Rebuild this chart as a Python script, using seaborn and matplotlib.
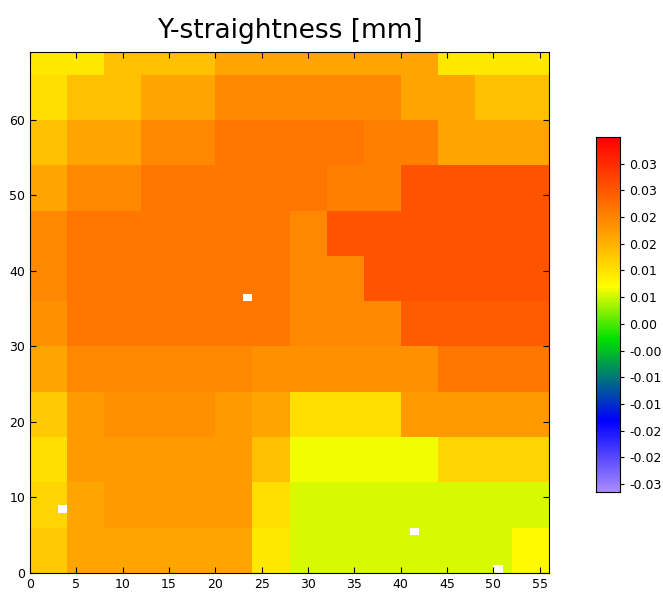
import numpy as np
import matplotlib
matplotlib.use("Agg")
import matplotlib.pyplot as plt
import seaborn as sns
from matplotlib.colors import LinearSegmentedColormap

# coarse blocks, rows from y=0 upward, 14 columns of 4 mm
col_repeat = [4] * 14
row_repeat = [6] * 11 + [3]
blocks = [
    [0.015, 0.019, 0.019, 0.019, 0.019, 0.019, 0.012, 0.008, 0.008, 0.008, 0.008, 0.008, 0.008, 0.010],
    [0.014, 0.019, 0.020, 0.020, 0.020, 0.020, 0.013, 0.008, 0.008, 0.008, 0.008, 0.008, 0.008, 0.008],
    [0.013, 0.020, 0.020, 0.020, 0.020, 0.020, 0.016, 0.009, 0.009, 0.009, 0.009, 0.014, 0.014, 0.014],
    [0.015, 0.020, 0.021, 0.021, 0.021, 0.020, 0.019, 0.013, 0.013, 0.013, 0.020, 0.020, 0.020, 0.020],
    [0.019, 0.022, 0.022, 0.022, 0.022, 0.022, 0.021, 0.021, 0.021, 0.021, 0.021, 0.024, 0.024, 0.024],
    [0.021, 0.024, 0.024, 0.024, 0.024, 0.024, 0.024, 0.022, 0.022, 0.022, 0.027, 0.027, 0.027, 0.027],
    [0.022, 0.024, 0.024, 0.024, 0.024, 0.024, 0.024, 0.022, 0.022, 0.028, 0.028, 0.028, 0.028, 0.028],
    [0.022, 0.024, 0.024, 0.024, 0.024, 0.024, 0.024, 0.022, 0.028, 0.028, 0.028, 0.028, 0.028, 0.028],
    [0.019, 0.022, 0.022, 0.024, 0.024, 0.024, 0.024, 0.024, 0.023, 0.023, 0.028, 0.028, 0.028, 0.028],
    [0.016, 0.019, 0.019, 0.022, 0.022, 0.024, 0.024, 0.024, 0.024, 0.023, 0.023, 0.019, 0.019, 0.019],
    [0.013, 0.016, 0.016, 0.019, 0.019, 0.022, 0.022, 0.022, 0.022, 0.022, 0.019, 0.019, 0.016, 0.016],
    [0.012, 0.012, 0.016, 0.016, 0.016, 0.019, 0.019, 0.019, 0.019, 0.019, 0.019, 0.012, 0.012, 0.012],
]
missing_x = [23, 3, 41, 50]
missing_y = [36, 8, 5, 0]

grid = np.repeat(np.repeat(np.array(blocks), row_repeat, axis=0), col_repeat, axis=1)
for mx, my in zip(missing_x, missing_y):
    grid[my, mx] = np.nan

cmap = LinearSegmentedColormap.from_list("ystr", [
    (0.0, "#a98bff"), (0.2, "#0000ff"), (0.43, "#00e000"),
    (0.58, "#ffff00"), (0.74, "#ff9900"), (1.0, "#ff0000")])
vmin, vmax = -0.029, 0.0375

fig = plt.figure(figsize=(6.63, 6.0), dpi=100)
ax = fig.add_axes([30 / 663, 27 / 600, 519 / 663, 521 / 600])
cax = fig.add_axes([596 / 663, 108 / 600, 24 / 663, 355 / 600])

sns.heatmap(grid, ax=ax, cmap=cmap, vmin=vmin, vmax=vmax, cbar_ax=cax,
            xticklabels=False, yticklabels=False)
ax.invert_yaxis()
ax.set_xlim(0, 56)
ax.set_ylim(0, 69)
ax.set_xticks(range(0, 56, 5))
ax.set_xticklabels([str(v) for v in range(0, 56, 5)])
ax.set_yticks(range(0, 61, 10))
ax.set_yticklabels([str(v) for v in range(0, 61, 10)])
ax.tick_params(direction="in", top=True, right=True, labelsize=9, length=4)
for s in ax.spines.values():
    s.set_visible(True)
    s.set_color("black")
ax.set_title("Y-straightness [mm]", fontsize=19, pad=10)

ticks = [-0.0275 + 0.005 * i for i in range(13)]
cax.set_yticks(ticks)
cax.set_yticklabels([f"{t:.2f}" for t in ticks])
cax.tick_params(labelsize=9, length=3)
for s in cax.spines.values():
    s.set_visible(True)
    s.set_color("black")

fig.savefig("out.png", dpi=100)
